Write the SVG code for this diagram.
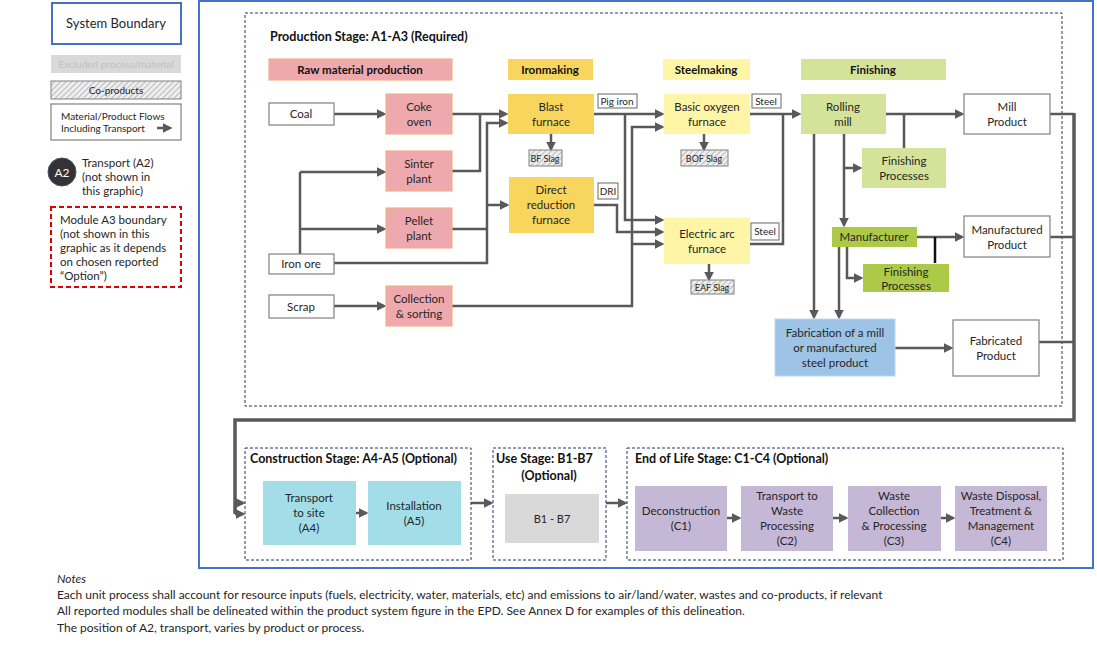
<svg xmlns="http://www.w3.org/2000/svg" width="1097" height="670" viewBox="0 0 1097 670">
<style>
text{font-family:Lato,"Liberation Sans",sans-serif;font-size:11.5px;fill:#262626;text-anchor:middle}
.b{font-weight:bold;font-size:12.5px;text-anchor:start;fill:#111}
.h{font-weight:bold;font-size:11.5px;fill:#111}
.sm{font-size:9px}
.l{text-anchor:start}
.wh{fill:#fff;stroke:#808080;stroke-width:1.2}
.pk{fill:#EEA9AE;stroke:#F4B183;stroke-width:1.2}
.ye{fill:#F8D65E}
.ly{fill:#FFF5A6}
.lg{fill:#D4E29A}
.dg{fill:#ADC948}
.bl{fill:#9DC3E6;stroke:#BDD7EE}
.cy{fill:#A2DDE8}
.pu{fill:#C5B8D6}
.gr{fill:#D9D9D9}
.ds{fill:none;stroke:#1F3864;stroke-width:1;stroke-dasharray:3,2}
.hatch{fill:url(#hp);stroke:#808080;stroke-width:1}
.c path,.c line{fill:none;stroke:#595959;stroke-width:2.5}
.a{marker-end:url(#ar)}
</style>
<defs>
<marker id="ar" markerWidth="4" markerHeight="4" refX="3" refY="2" orient="auto" markerUnits="strokeWidth"><path d="M0,0L4,2L0,4z" fill="#595959"/></marker>
<pattern id="hp" width="4" height="4" patternUnits="userSpaceOnUse" patternTransform="rotate(45)"><rect width="4" height="4" fill="#eee"/><line x1="0" y1="0" x2="0" y2="4" stroke="#aaa" stroke-width="1.5"/></pattern>
</defs>
<rect x="0" y="0" width="1097" height="670" fill="#fff"/>

<g id="legend">
<rect x="52" y="3" width="129" height="41" fill="#fff" stroke="#4472C4" stroke-width="2"/>
<text x="116" y="28" style="font-size:13px">System Boundary</text>
<rect x="51" y="55" width="130" height="18" class="gr"/>
<text x="116" y="68" style="font-size:10px;fill:#BFBFBF">Excluded process/material</text>
<rect x="51" y="81" width="130" height="18" class="hatch"/>
<text x="116" y="94" style="font-size:10px">Co-products</text>
<rect x="51" y="104" width="130" height="36" class="wh"/>
<text x="61" y="120" class="l" style="font-size:10px">Material/Product Flows</text>
<text x="61" y="132" class="l" style="font-size:10px">Including Transport</text>
<line x1="157" y1="128" x2="170" y2="128" stroke="#595959" stroke-width="2.5" marker-end="url(#ar)"/>
<circle cx="62" cy="172" r="14" fill="#333" stroke="#44546A" stroke-width="1"/>
<text x="62" y="177" style="fill:#fff;font-size:12px">A2</text>
<text x="82" y="167" class="l">Transport (A2)</text>
<text x="82" y="181" class="l">(not shown in</text>
<text x="82" y="195" class="l">this graphic)</text>
<rect x="51" y="207" width="130" height="80" fill="none" stroke="#E00000" stroke-width="2" stroke-dasharray="5,3"/>
<text x="60" y="224" class="l">Module A3 boundary</text>
<text x="60" y="238" class="l">(not shown in this</text>
<text x="60" y="252" class="l">graphic as it depends</text>
<text x="60" y="266" class="l">on chosen reported</text>
<text x="60" y="280" class="l">“Option”)</text>
</g>

<rect x="199" y="1" width="894" height="567" fill="none" stroke="#4472C4" stroke-width="2"/>
<g id="production">
<rect x="245" y="13" width="817" height="393" class="ds"/>
<text x="270" y="41" class="b">Production Stage: A1-A3  (Required)</text>
<rect x="269" y="59" width="183" height="21" class="pk"/><text x="360" y="74" class="h">Raw material production</text>
<rect x="508" y="59" width="85" height="21" class="ye"/><text x="550" y="74" class="h">Ironmaking</text>
<rect x="663" y="59" width="87" height="21" class="ly"/><text x="706" y="74" class="h">Steelmaking</text>
<rect x="801" y="59" width="145" height="21" class="lg"/><text x="873" y="74" class="h">Finishing</text>
</g>

<g class="c" id="connectors">
<path class="a" d="M334,114H384"/>
<path class="a" d="M452,114H506"/>
<path d="M452,171H480V114"/>
<path class="a" d="M334,263H487V123H506"/>
<path class="a" d="M487,205H507"/>
<path d="M452,229H487"/>
<path d="M300,263V172"/>
<path class="a" d="M300,172H384"/>
<path class="a" d="M300,229H384"/>
<path class="a" d="M334,306H384"/>
<path class="a" d="M452,306H632V127H662"/>
<path class="a" d="M632,244H662"/>
<path class="a" d="M594,114H662"/>
<path class="a" d="M625,114V220H662"/>
<path class="a" d="M594,205H617V232H662"/>
<path class="a" d="M750,114H799"/>
<path d="M750,244H783V114"/>
<path class="a" d="M551,134V149"/>
<path class="a" d="M704,134V149"/>
<path class="a" d="M709,264V279"/>
<path class="a" d="M886,114H962"/>
<path d="M904,148V114"/>
<path class="a" d="M844,134V225"/>
<path class="a" d="M844,168H860"/>
<path class="a" d="M814,134V317"/>
<path class="a" d="M917,237H962"/>
<line x1="935" y1="237" x2="935" y2="263" style="stroke:#111"/>
<path class="a" d="M847,247V278H861"/>
<path class="a" d="M839,247V317"/>
<path class="a" d="M895,348H951"/>
<path d="M1050,114H1074M1050,237H1074M1039,342H1074" />
<path d="M1074,113V420H235V514" style="stroke-width:3.5"/>
<path class="a" d="M235,503H243"/>
<path class="a" d="M235,514H243"/>
<path class="a" d="M356,513H366"/>
<path class="a" d="M471,503H491"/>
<path class="a" d="M606,503H625"/>
<path class="a" d="M727,518H739"/>
<path class="a" d="M833,518H846"/>
<path class="a" d="M941,518H953"/>
</g>

<g id="coal"><rect x="269" y="103" width="65" height="22" class="wh"/><text x="301" y="118">Coal</text></g>
<g id="ironore"><rect x="269" y="254" width="65" height="20" class="wh"/><text x="301" y="268">Iron ore</text></g>
<g id="scrap"><rect x="269" y="295" width="65" height="23" class="wh"/><text x="301" y="311">Scrap</text></g>
<g id="coke"><rect x="386" y="94" width="66" height="40" class="pk"/><text x="419" y="111">Coke</text><text x="419" y="126">oven</text></g>
<g id="sinter"><rect x="386" y="151" width="66" height="40" class="pk"/><text x="419" y="168">Sinter</text><text x="419" y="183">plant</text></g>
<g id="pellet"><rect x="386" y="208" width="66" height="40" class="pk"/><text x="419" y="225">Pellet</text><text x="419" y="240">plant</text></g>
<g id="collection"><rect x="386" y="286" width="66" height="40" class="pk"/><text x="419" y="303">Collection</text><text x="419" y="318">&amp; sorting</text></g>
<g id="blast"><rect x="508" y="94" width="86" height="40" class="ye"/><text x="551" y="111">Blast</text><text x="551" y="126">furnace</text></g>
<g id="bfslag"><rect x="529" y="150" width="33" height="16" class="hatch"/><text x="545" y="162" class="sm">BF Slag</text></g>
<g id="dri"><rect x="509" y="177" width="85" height="56" class="ye"/><text x="551" y="194">Direct</text><text x="551" y="209">reduction</text><text x="551" y="224">furnace</text></g>
<g id="pigiron"><rect x="598" y="94" width="39" height="14" class="wh"/><text x="617" y="105" style="font-size:10px">Pig iron</text></g>
<g id="drilabel"><rect x="598" y="183" width="20" height="16" class="wh"/><text x="608" y="195" style="font-size:10px">DRI</text></g>
<g id="bof"><rect x="664" y="94" width="86" height="40" class="ly"/><text x="707" y="111">Basic oxygen</text><text x="707" y="126">furnace</text></g>
<g id="steel1"><rect x="752" y="94" width="29" height="14" class="wh"/><text x="766" y="105" style="font-size:10px">Steel</text></g>
<g id="bofslag"><rect x="681" y="150" width="47" height="16" class="hatch"/><text x="704" y="162" class="sm">BOF Slag</text></g>
<g id="eaf"><rect x="664" y="218" width="86" height="46" class="ly"/><text x="707" y="238">Electric arc</text><text x="707" y="253">furnace</text></g>
<g id="steel2"><rect x="751" y="223" width="28" height="17" class="wh"/><text x="765" y="235" style="font-size:10px">Steel</text></g>
<g id="eafslag"><rect x="691" y="280" width="43" height="14" class="hatch"/><text x="712" y="291" class="sm">EAF Slag</text></g>
<g id="rolling"><rect x="801" y="94" width="85" height="40" class="lg"/><text x="843" y="111">Rolling</text><text x="843" y="126">mill</text></g>
<g id="finish1"><rect x="862" y="148" width="84" height="40" class="lg"/><text x="904" y="165">Finishing</text><text x="904" y="180">Processes</text></g>
<g id="manufacturer"><rect x="832" y="227" width="85" height="20" class="dg"/><text x="874" y="241">Manufacturer</text></g>
<g id="finish2"><rect x="863" y="264" width="86" height="28" class="dg"/><text x="906" y="276">Finishing</text><text x="906" y="290">Processes</text></g>
<g id="fabrication"><rect x="775" y="319" width="120" height="57" class="bl"/><text x="835" y="337">Fabrication of a mill</text><text x="835" y="352">or manufactured</text><text x="835" y="367">steel product</text></g>
<g id="millproduct"><rect x="964" y="94" width="86" height="40" class="wh"/><text x="1007" y="111">Mill</text><text x="1007" y="126">Product</text></g>
<g id="manuproduct"><rect x="964" y="216" width="86" height="41" class="wh"/><text x="1007" y="234">Manufactured</text><text x="1007" y="249">Product</text></g>
<g id="fabproduct"><rect x="953" y="320" width="86" height="56" class="wh"/><text x="996" y="345">Fabricated</text><text x="996" y="360">Product</text></g>

<g id="construction">
<rect x="245" y="448" width="226" height="112" class="ds"/>
<text x="250" y="463" class="b">Construction Stage: A4-A5 (Optional)</text>
<rect x="263" y="481" width="93" height="64" class="cy"/><text x="309" y="502">Transport</text><text x="309" y="517">to site</text><text x="309" y="532">(A4)</text>
<rect x="368" y="481" width="93" height="64" class="cy"/><text x="414" y="510">Installation</text><text x="414" y="525">(A5)</text>
</g>
<g id="use">
<rect x="493" y="448" width="113" height="112" class="ds"/>
<text x="496" y="463" class="b">Use Stage: B1-B7</text>
<text x="549" y="480" class="b" style="text-anchor:middle">(Optional)</text>
<rect x="505" y="494" width="94" height="49" class="gr"/><text x="552" y="523" style="font-size:11px">B1 - B7</text>
</g>
<g id="eol">
<rect x="627" y="448" width="436" height="112" class="ds"/>
<text x="635" y="463" class="b">End of Life Stage: C1-C4 (Optional)</text>
<rect x="635" y="486" width="92" height="65" class="pu"/><text x="681" y="515">Deconstruction</text><text x="681" y="530">(C1)</text>
<rect x="741" y="486" width="92" height="65" class="pu"/><text x="787" y="500">Transport to</text><text x="787" y="515">Waste</text><text x="787" y="530">Processing</text><text x="787" y="545">(C2)</text>
<rect x="848" y="486" width="93" height="65" class="pu"/><text x="894" y="500">Waste</text><text x="894" y="515">Collection</text><text x="894" y="530">&amp; Processing</text><text x="894" y="545">(C3)</text>
<rect x="955" y="486" width="92" height="65" class="pu"/><text x="1001" y="500">Waste Disposal,</text><text x="1001" y="515">Treatment &amp;</text><text x="1001" y="530">Management</text><text x="1001" y="545">(C4)</text>
</g>

<g id="notes">
<text x="57" y="583" class="l" style="font-style:italic;font-size:12px">Notes</text>
<text x="57" y="599" class="l" style="font-size:12px">Each unit process shall account for resource inputs (fuels, electricity, water, materials, etc) and emissions to air/land/water, wastes and co-products, if relevant</text>
<text x="57" y="615" class="l" style="font-size:12px">All reported modules shall be delineated within the product system figure in the EPD.  See Annex D for examples of this delineation.</text>
<text x="57" y="632" class="l" style="font-size:12px">The position of A2, transport, varies by product or process.</text>
</g>
</svg>
